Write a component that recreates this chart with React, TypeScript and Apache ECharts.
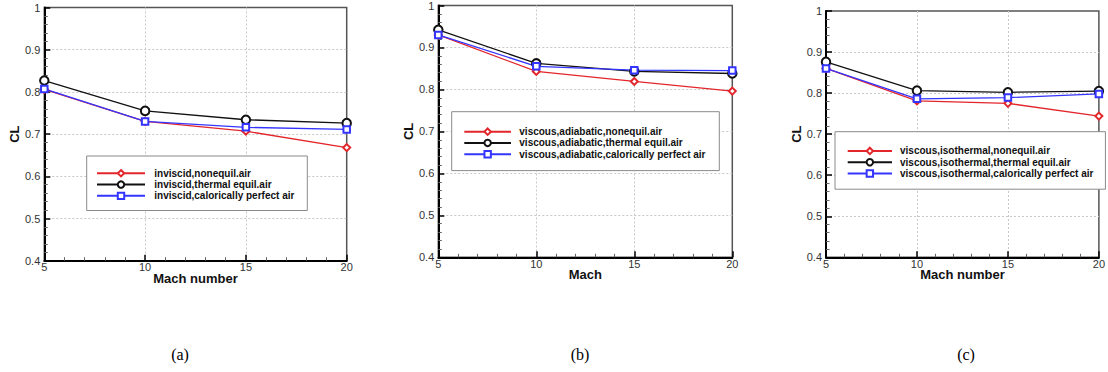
import React, { useEffect, useRef } from "react";
import * as echarts from "echarts";

// Mach numbers shared by all three panels
const machNumbers = [5, 10, 15, 20];

// Panel (a): inviscid
const invNonequil = [0.806, 0.730, 0.707, 0.668];
const invThermal = [0.827, 0.755, 0.734, 0.726];
const invPerfect = [0.807, 0.730, 0.716, 0.711];

// Panel (b): viscous, adiabatic wall
const adiNonequil = [0.930, 0.843, 0.819, 0.796];
const adiThermal = [0.942, 0.862, 0.843, 0.838];
const adiPerfect = [0.930, 0.855, 0.846, 0.845];

// Panel (c): viscous, isothermal wall
const isoNonequil = [0.860, 0.781, 0.775, 0.744];
const isoThermal = [0.876, 0.806, 0.802, 0.805];
const isoPerfect = [0.860, 0.786, 0.789, 0.798];

const namesA = ["inviscid,nonequil.air", "inviscid,thermal equil.air", "inviscid,calorically perfect air"];
const namesB = ["viscous,adiabatic,nonequil.air", "viscous,adiabatic,thermal equil.air", "viscous,adiabatic,calorically perfect air"];
const namesC = ["viscous,isothermal,nonequil.air", "viscous,isothermal,thermal equil.air", "viscous,isothermal,calorically perfect air"];

const xTitles = ["Mach number", "Mach", "Mach number"];
const captions = ["(a)", "(b)", "(c)"];

const RED = "#e3262b";
const BLACK = "#111111";
const BLUE = "#3434ff";
const SANS = "Liberation Sans, Arial, sans-serif";

const grids = [
  { left: 44.3, top: 7.5, width: 302.4, height: 253.2 },
  { left: 438.3, top: 4, width: 294, height: 253.3 },
  { left: 826, top: 11, width: 279, height: 246.3 },
];

const legendBoxes = [
  { left: 86.7, top: 156, padding: [11.6, 8, 9, 9.3], itemWidth: 48, textWidth: 145, gap: 9.3 },
  { left: 451.7, top: 111.7, padding: [14.3, 12, 10.7, 11.6], itemWidth: 46.7, textWidth: 188, gap: 8.3 },
  { left: 835, top: 131.7, padding: [13.6, 12, 10, 11.7], itemWidth: 44.3, textWidth: 185, gap: 8 },
];

const captionX = [180, 580, 966];

function pairs(values: number[]) {
  return machNumbers.map((m, i) => [m, values[i]]);
}

function makeSeries(idx: number, names: string[], red: number[], black: number[], blue: number[]) {
  const common = {
    type: "line",
    xAxisIndex: idx,
    yAxisIndex: idx,
    showAllSymbol: true,
    z: 3,
  };
  return [
    {
      ...common,
      name: names[0],
      data: pairs(red),
      symbol: "emptyDiamond",
      symbolSize: 7,
      lineStyle: { color: RED, width: 1.3 },
      itemStyle: { color: RED, borderWidth: 1 },
    },
    {
      ...common,
      name: names[1],
      data: pairs(black),
      symbol: "emptyCircle",
      symbolSize: 8.5,
      lineStyle: { color: BLACK, width: 1.3 },
      itemStyle: { color: BLACK, borderWidth: 1 },
    },
    {
      ...common,
      name: names[2],
      data: pairs(blue),
      symbol: "emptyRect",
      symbolSize: 6.5,
      lineStyle: { color: BLUE, width: 1.3 },
      itemStyle: { color: BLUE, borderWidth: 1 },
    },
  ];
}

export default function App() {
  const ref = useRef<HTMLDivElement>(null);

  useEffect(() => {
    document.body.style.margin = "0";
    if (!ref.current) return;
    const chart = echarts.init(ref.current, null, { renderer: "svg" });

    const splitStyle = {
      show: true,
      showMinLine: false,
      showMaxLine: false,
      lineStyle: { color: "#c8c8c8", width: 1, type: [2, 2] },
    };

    const xAxes = grids.map((_, i) => ({
      type: "value",
      gridIndex: i,
      min: 5,
      max: 20,
      interval: 5,
      name: xTitles[i],
      nameLocation: "middle",
      nameGap: 11,
      nameMoveOverlap: false,
      nameTextStyle: { fontFamily: SANS, fontSize: 13, fontWeight: "bold", color: "#111" },
      axisLine: { show: true, lineStyle: { color: "#000", width: 2 } },
      axisTick: { show: true, inside: true, length: 6, lineStyle: { color: "#000", width: 1.5 } },
      minorTick: { show: true, splitNumber: 5, length: 3.5, lineStyle: { color: "#666", width: 1 } },
      axisLabel: { fontFamily: SANS, fontSize: 11, color: "#333", margin: 1 },
      splitLine: splitStyle,
    }));

    const yAxes = grids.map((_, i) => ({
      type: "value",
      gridIndex: i,
      min: 0.4,
      max: 1,
      interval: 0.1,
      name: "CL",
      nameLocation: "middle",
      nameGap: 23,
      nameMoveOverlap: false,
      nameTextStyle: { fontFamily: SANS, fontSize: 13, fontWeight: "bold", color: "#111" },
      axisLine: { show: true, lineStyle: { color: "#000", width: 2 } },
      axisTick: { show: true, inside: true, length: 6, lineStyle: { color: "#000", width: 1.5 } },
      minorTick: { show: true, splitNumber: 5, length: 3.5, lineStyle: { color: "#666", width: 1 } },
      axisLabel: { fontFamily: SANS, fontSize: 11, color: "#333", margin: 4 },
      splitLine: splitStyle,
    }));

    const allNames = [namesA, namesB, namesC];
    const legends = legendBoxes.map((b, i) => ({
      data: allNames[i],
      orient: "vertical",
      left: b.left,
      top: b.top,
      padding: b.padding,
      itemGap: 0,
      itemWidth: b.itemWidth,
      itemHeight: 8,
      backgroundColor: "#fff",
      borderColor: "#8a8a8a",
      borderWidth: 1,
      selectedMode: false,
      textStyle: {
        fontFamily: SANS,
        fontSize: 10,
        fontWeight: "bold",
        color: "#111",
        lineHeight: 11.3,
        width: b.textWidth,
        padding: [0, 0, 0, b.gap - 5],
      },
    }));

    const titles = captions.map((c, i) => ({
      text: c,
      left: captionX[i],
      top: 346,
      padding: 0,
      textAlign: "center",
      textStyle: { fontFamily: "Liberation Serif, Times New Roman, serif", fontSize: 16, fontWeight: "normal", color: "#000" },
    }));

    chart.setOption({
      animation: false,
      backgroundColor: "#fff",
      title: titles,
      grid: grids.map((g) => ({ ...g, show: true, borderColor: "#555", borderWidth: 1.5, backgroundColor: "transparent" })),
      xAxis: xAxes,
      yAxis: yAxes,
      legend: legends,
      series: [
        ...makeSeries(0, namesA, invNonequil, invThermal, invPerfect),
        ...makeSeries(1, namesB, adiNonequil, adiThermal, adiPerfect),
        ...makeSeries(2, namesC, isoNonequil, isoThermal, isoPerfect),
      ],
    });

    return () => chart.dispose();
  }, []);

  return <div ref={ref} style={{ width: 1108, height: 372 }} />;
}
